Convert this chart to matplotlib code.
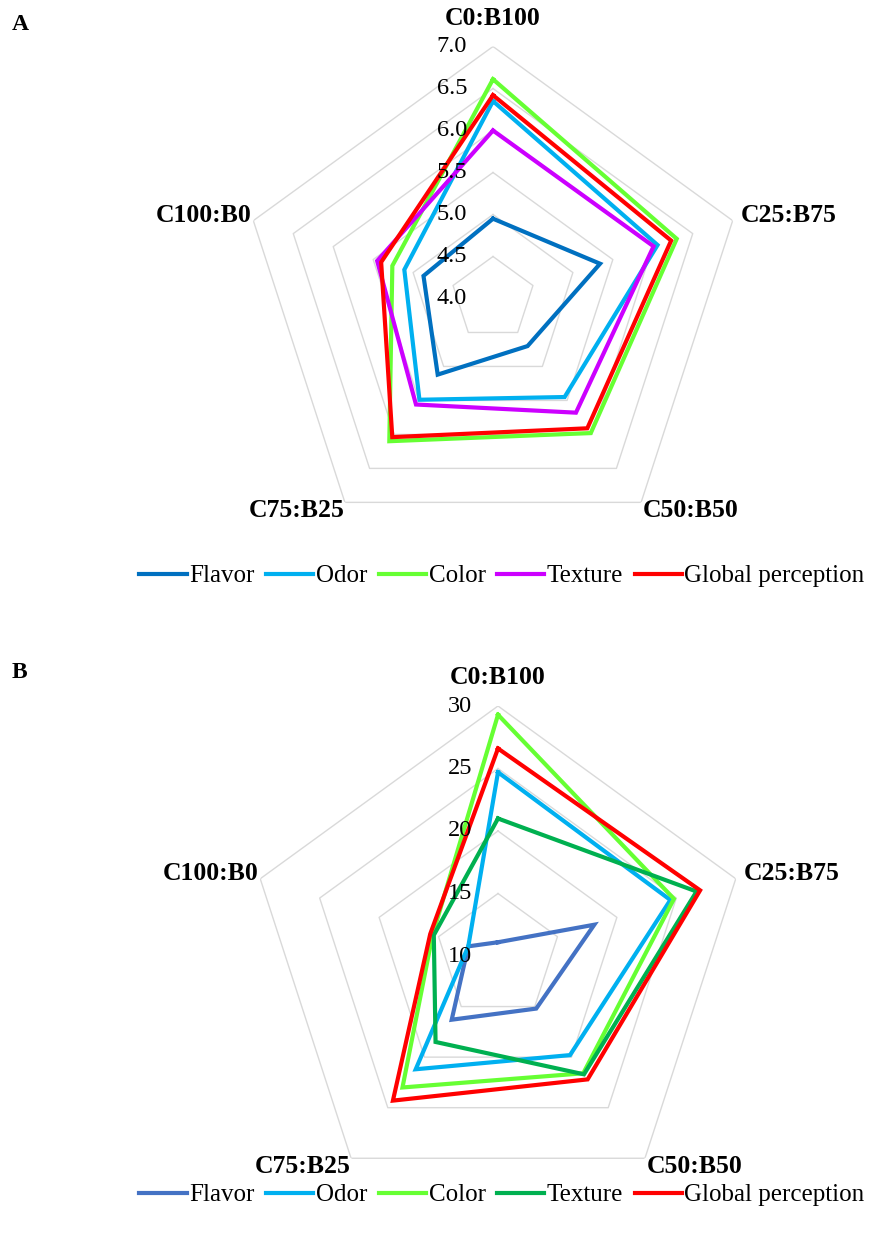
import matplotlib
matplotlib.use('Agg')
import matplotlib.pyplot as plt
import numpy as np

plt.rcParams['font.family'] = ['Liberation Serif', 'DejaVu Serif']

categories = ['C0:B100', 'C25:B75', 'C50:B50', 'C75:B25', 'C100:B0']
series_names = ['Flavor', 'Odor', 'Color', 'Texture', 'Global perception']

# panel A: hedonic scores
a_flavor = [4.95, 5.34, 4.70, 5.12, 4.87]
a_odor = [6.35, 6.06, 5.45, 5.49, 5.11]
a_color = [6.61, 6.30, 5.98, 6.10, 5.26]
a_texture = [6.00, 6.01, 5.68, 5.56, 5.45]
a_global = [6.42, 6.23, 5.91, 6.04, 5.40]
a_ticks = [4.0, 4.5, 5.0, 5.5, 6.0, 6.5, 7.0]
a_colors = ['#0070C0', '#00B0F0', '#66FF33', '#CC00FF', '#FF0000']

# panel B: scores
b_flavor = [11.1, 18.1, 15.2, 16.3, 12.5]
b_odor = [24.7, 24.5, 19.8, 21.2, 12.5]
b_color = [29.3, 24.8, 21.6, 23.0, 15.5]
b_texture = [21.0, 26.7, 21.7, 18.5, 15.4]
b_global = [26.6, 27.0, 22.2, 24.3, 15.7]
b_ticks = [10, 15, 20, 25, 30]
b_colors = ['#4472C4', '#00B0F0', '#66FF33', '#00B050', '#FF0000']

W, H = 870, 1239
fig = plt.figure(figsize=(W / 100, H / 100), dpi=100)
px = 0.72  # points per pixel at 100 dpi

theta = np.arange(len(categories)) * 2 * np.pi / len(categories)


def radar(cx, cy, rad, series, colors, ticks, fmt, legend_y):
    ax = fig.add_axes([(cx - rad) / W, (H - cy - rad) / H, 2 * rad / W, 2 * rad / H],
                      projection='polar')
    ax.set_theta_offset(np.pi / 2)
    ax.set_theta_direction(-1)
    ax.set_ylim(ticks[0], ticks[-1])
    ax.grid(False)
    ax.spines['polar'].set_visible(False)
    ax.set_xticks([])
    ax.set_yticks([])
    ax.patch.set_alpha(0)

    closed = np.append(theta, theta[0])
    for t in ticks[1:]:
        ax.plot(closed, [t] * len(closed), color='#D9D9D9', lw=1.0, zorder=1)

    handles = []
    for vals, col in zip(series, colors):
        ln, = ax.plot(closed, list(vals) + [vals[0]], color=col, lw=3.0,
                      solid_joinstyle='miter', zorder=3)
        handles.append(ln)

    for t in ticks:
        ax.annotate(fmt.format(t), xy=(0, t), xytext=(-26 * px, 0),
                    textcoords='offset points', ha='right', va='center',
                    fontsize=17.5, annotation_clip=False, zorder=4)

    rmax = ticks[-1]
    offs = [((0, 28), 'center', 'center'),
            ((8, 5), 'left', 'center'),
            ((2, -8), 'left', 'center'),
            ((0, -8), 'right', 'center'),
            ((-2, 5), 'right', 'center')]
    for th, lab, (off, ha, va) in zip(theta, categories, offs):
        ax.annotate(lab, xy=(th, rmax), xytext=(off[0] * px, off[1] * px),
                    textcoords='offset points', ha=ha, va=va, fontsize=18.5,
                    fontweight='bold', annotation_clip=False)

    fig.legend(handles, series_names, loc='center',
               bbox_to_anchor=(502 / W, 1 - legend_y / H), ncol=5, frameon=False,
               fontsize=18, handlelength=1.9, handletextpad=0.1,
               columnspacing=0.45, borderaxespad=0)
    return ax


radar(493, 298.5, 252, [a_flavor, a_odor, a_color, a_texture, a_global],
      a_colors, a_ticks, '{:.1f}', 576)
radar(498, 956, 250, [b_flavor, b_odor, b_color, b_texture, b_global],
      b_colors, b_ticks, '{:d}', 1195)

fig.text(12 / W, 1 - 25 / H, 'A', fontsize=17, fontweight='bold', va='center')
fig.text(12 / W, 1 - 672 / H, 'B', fontsize=17, fontweight='bold', va='center')

fig.savefig('out.png', dpi=100)
